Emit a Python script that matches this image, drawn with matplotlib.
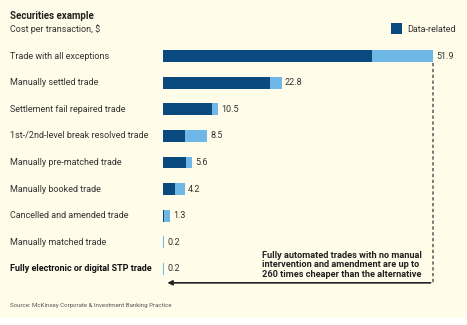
import matplotlib
matplotlib.use("Agg")
import matplotlib.pyplot as plt
import matplotlib.patches as mpatches

plt.rcParams['font.family'] = ['Roboto', 'DejaVu Sans']

categories = ["Trade with all exceptions", "Manually settled trade",
              "Settlement fail repaired trade", "1st-/2nd-level break resolved trade",
              "Manually pre-matched trade", "Manually booked trade",
              "Cancelled and amended trade", "Manually matched trade",
              "Fully electronic or digital STP trade"]
totals = [51.9, 22.8, 10.5, 8.5, 5.6, 4.2, 1.3, 0.2, 0.2]
data_related = [40.2, 20.6, 9.4, 4.2, 4.4, 2.3, 0.25, 0.0, 0.0]
value_labels = ["51.9", "22.8", "10.5", "8.5", "5.6", "4.2", "1.3", "0.2", "0.2"]

DARK = "#0b4a7f"
LIGHT = "#6fb7e7"
BG = "#fffcea"
TXT = "#333333"
FS = 6.5

W, H = 467, 325
fig = plt.figure(figsize=(W / 100, H / 100), dpi=100)
fig.patch.set_facecolor("white")
# cream panel
fig.patches.append(mpatches.Rectangle((0, 1 - 318 / H), 1, 318 / H, transform=fig.transFigure,
                                      facecolor=BG, edgecolor="none", zorder=-10))

ax_left, ax_right = 163, 460
ax_top, ax_bot = 42.7, 282.3
ax = fig.add_axes([ax_left / W, 1 - ax_bot / H, (ax_right - ax_left) / W, (ax_bot - ax_top) / H])
ax.set_facecolor("none")
ax.set_xlim(0, (ax_right - ax_left) / 5.2)
ax.set_ylim(len(categories) - 0.5, -0.5)
ax.axis("off")

ys = list(range(len(categories)))
rest = [t - d for t, d in zip(totals, data_related)]
ax.barh(ys, data_related, height=0.45, color=DARK, linewidth=0)
ax.barh(ys, rest, left=data_related, height=0.45, color=LIGHT, linewidth=0)

for y, t, lab, cat in zip(ys, totals, value_labels, categories):
    ax.annotate(lab, (t, y), xytext=(2.5, 0), textcoords="offset points",
                ha="left", va="center", fontsize=FS, color=TXT)
    bold = cat.startswith("Fully electronic")
    px = ax.transData.transform((0, y))[1] / fig.dpi / fig.get_figheight()
    fig.text(10 / W, px, cat, fontsize=FS, color="#111111" if bold else TXT,
             fontweight="bold" if bold else "normal", ha="left", va="center")

# dashed line and arrow
ax.plot([totals[0], totals[0]], [0.25, 8.52], ls=(0, (2, 1.5)), color="#666666", lw=1.2, clip_on=False)
ax.annotate("", xy=(0.3, 8.52), xytext=(totals[0] + 0.1, 8.52),
            arrowprops=dict(arrowstyle="-|>", color="#222222", lw=1.2, mutation_scale=7),
            annotation_clip=False)
ax.text(19.0, 8.38, "Fully automated trades with no manual\nintervention and amendment are up to\n260 times cheaper than the alternative",
        fontsize=6.6, fontweight="bold", color="#222222", ha="left", va="bottom", linespacing=1.1)

# titles
fig.text(10 / W, 1 - 16 / H, "Securities example", fontsize=7.0, fontweight="bold", color="#222222",
         ha="left", va="center")
fig.text(10 / W, 1 - 29 / H, "Cost per transaction, $", fontsize=FS, color=TXT, ha="left", va="center")

# legend
fig.patches.append(mpatches.Rectangle((391 / W, 1 - 34 / H), 11 / W, 11 / H, transform=fig.transFigure,
                                      facecolor=DARK, edgecolor="none"))
fig.text(407 / W, 1 - 29 / H, "Data-related", fontsize=FS, color=TXT, ha="left", va="center")

fig.text(10 / W, 1 - 306 / H, "Source: McKinsey Corporate & Investment Banking Practice",
         fontsize=4.4, color="#555555", ha="left", va="center")

fig.savefig("out.png", dpi=100, facecolor=fig.get_facecolor())
